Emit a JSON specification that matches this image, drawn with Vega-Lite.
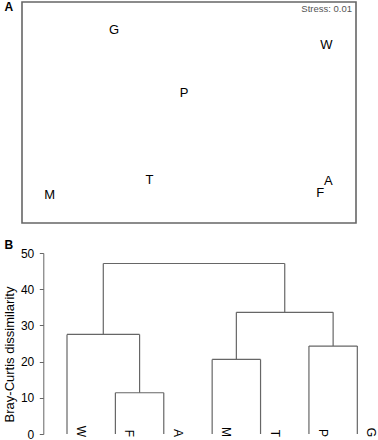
{
  "$schema": "https://vega.github.io/schema/vega-lite/v6.json",
  "padding": {"left": 3, "top": 0, "right": 0, "bottom": 0},
  "config": {"font": "Liberation Sans", "view": {"stroke": null}},
  "align": "none",
  "columns": 1,
  "spacing": 15,
  "concat": [
    {
      "width": 334,
      "height": 221,
      "view": {"stroke": "#666", "strokeWidth": 1.6},
      "title": {"text": "A", "anchor": "start", "frame": "group", "fontSize": 12, "fontWeight": "bold", "color": "#000", "dx": -17.5, "dy": 16},
      "layer": [
        {
          "data": {"values": [
            {"label": "G", "x": -0.674, "y": 0.744},
            {"label": "W", "x": 1.233, "y": 0.608},
            {"label": "P", "x": -0.045, "y": 0.174},
            {"label": "T", "x": -0.354, "y": -0.614},
            {"label": "M", "x": -1.252, "y": -0.749},
            {"label": "F", "x": 1.179, "y": -0.726},
            {"label": "A", "x": 1.251, "y": -0.620}
          ]},
          "mark": {"type": "text", "fontSize": 13, "align": "center", "baseline": "middle", "color": "#000"},
          "encoding": {
            "x": {"field": "x", "type": "quantitative", "scale": {"domain": [-1.5, 1.5], "nice": false, "zero": false}, "axis": null},
            "y": {"field": "y", "type": "quantitative", "scale": {"domain": [-1, 1], "nice": false, "zero": false}, "axis": null},
            "text": {"field": "label"}
          }
        },
        {
          "data": {"values": [{"label": "Stress: 0.01", "x": 1.5, "y": 1}]},
          "mark": {"type": "text", "fontSize": 9.5, "align": "right", "baseline": "top", "dx": -4, "dy": 2, "color": "#555"},
          "encoding": {
            "x": {"field": "x", "type": "quantitative"},
            "y": {"field": "y", "type": "quantitative"},
            "text": {"field": "label"}
          }
        }
      ]
    },
    {
      "width": 345,
      "height": 181,
      "title": {"text": "B", "anchor": "start", "frame": "group", "fontSize": 12, "fontWeight": "bold", "color": "#000", "dx": -17.4, "dy": 8, "offset": 3},
      "layer": [
        {
          "data": {"values": [
            {"x": 1, "x2": 1, "y": 0, "y2": 27.5},
            {"x": 2, "x2": 2, "y": 0, "y2": 11.4},
            {"x": 3, "x2": 3, "y": 0, "y2": 11.4},
            {"x": 4, "x2": 4, "y": 0, "y2": 20.6},
            {"x": 5, "x2": 5, "y": 0, "y2": 20.6},
            {"x": 6, "x2": 6, "y": 0, "y2": 24.3},
            {"x": 7, "x2": 7, "y": 0, "y2": 24.3},
            {"x": 2, "x2": 3, "y": 11.4, "y2": 11.4},
            {"x": 2.5, "x2": 2.5, "y": 11.4, "y2": 27.5},
            {"x": 1, "x2": 2.5, "y": 27.5, "y2": 27.5},
            {"x": 1.75, "x2": 1.75, "y": 27.5, "y2": 47.1},
            {"x": 4, "x2": 5, "y": 20.6, "y2": 20.6},
            {"x": 4.5, "x2": 4.5, "y": 20.6, "y2": 33.6},
            {"x": 6, "x2": 7, "y": 24.3, "y2": 24.3},
            {"x": 6.5, "x2": 6.5, "y": 24.3, "y2": 33.6},
            {"x": 4.5, "x2": 6.5, "y": 33.6, "y2": 33.6},
            {"x": 5.5, "x2": 5.5, "y": 33.6, "y2": 47.1},
            {"x": 1.75, "x2": 5.5, "y": 47.1, "y2": 47.1}
          ]},
          "mark": {"type": "rule", "color": "#666", "strokeWidth": 1.2},
          "encoding": {
            "x": {"field": "x", "type": "quantitative", "scale": {"domain": [0.07, 7.2], "nice": false, "zero": false}, "axis": null},
            "x2": {"field": "x2"},
            "y": {"field": "y", "type": "quantitative", "scale": {"domain": [0, 50], "nice": false},
              "axis": {"values": [0, 10, 20, 30, 40, 50], "tickCount": 6, "offset": -21.3, "labelOverlap": false, "title": "Bray-Curtis dissimilarity", "titleFontSize": 13, "titleFontWeight": "normal", "titleColor": "#000", "titlePadding": 4, "titleY": 101, "labelFontSize": 12, "labelColor": "#000", "labelPadding": 5.5, "tickSize": 4, "tickColor": "#666", "domainColor": "#666", "grid": false}},
            "y2": {"field": "y2"}
          }
        },
        {
          "data": {"values": [
            {"name": "W", "pos": 1, "h": 0},
            {"name": "F", "pos": 2, "h": 0},
            {"name": "A", "pos": 3, "h": 0},
            {"name": "M", "pos": 4, "h": 0},
            {"name": "T", "pos": 5, "h": 0},
            {"name": "P", "pos": 6, "h": 0},
            {"name": "G", "pos": 7, "h": 0}
          ]},
          "mark": {"type": "text", "angle": 90, "align": "right", "baseline": "alphabetic", "dx": 3, "dy": -10, "fontSize": 12, "color": "#000"},
          "encoding": {
            "x": {"field": "pos", "type": "quantitative"},
            "y": {"field": "h", "type": "quantitative"},
            "text": {"field": "name"}
          }
        }
      ]
    }
  ]
}
